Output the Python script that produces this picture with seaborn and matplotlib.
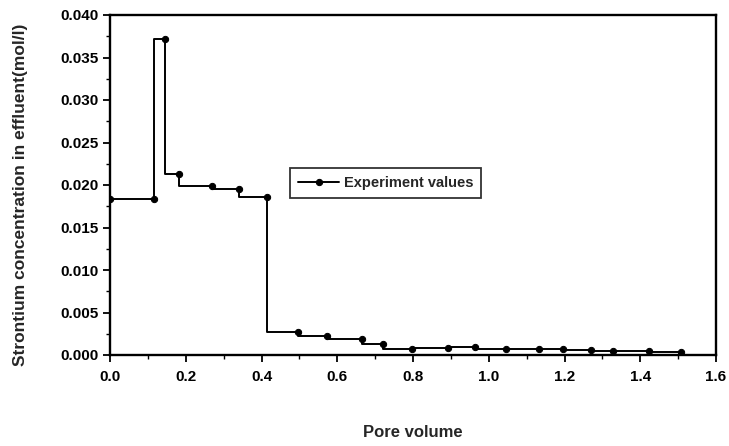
import matplotlib
matplotlib.use("Agg")
import matplotlib.pyplot as plt
import seaborn as sns
import pandas as pd
from matplotlib.ticker import MultipleLocator, FormatStrFormatter

pore_volume = [0.0, 0.115, 0.146, 0.181, 0.269, 0.340, 0.415, 0.496, 0.573, 0.665,
               0.720, 0.797, 0.893, 0.963, 1.046, 1.132, 1.197, 1.271, 1.329, 1.423, 1.508]
sr_conc = [0.0184, 0.0184, 0.0372, 0.0213, 0.0199, 0.0195, 0.0186, 0.0027, 0.0022, 0.0019,
           0.0013, 0.0007, 0.0008, 0.0009, 0.0007, 0.0007, 0.0007, 0.0006, 0.0005, 0.0005, 0.0004]
series_name = "Experiment values"

df = pd.DataFrame({"Pore volume": pore_volume, "conc": sr_conc, "series": series_name})

sns.set_theme(style="ticks")
plt.rcParams["font.family"] = ["Liberation Sans", "DejaVu Sans"]

fig = plt.figure(figsize=(7.29, 4.46), dpi=100)
ax = fig.add_axes([110 / 729, 1 - 355 / 446, 606 / 729, 340 / 446])

sns.lineplot(data=df, x="Pore volume", y="conc", hue="series", palette=["black"],
             estimator=None, sort=False, drawstyle="steps-pre", marker="o",
             markersize=4.5, markeredgecolor="black", linewidth=1.4, ax=ax)

ax.set_xlim(0, 1.6)
ax.set_ylim(0, 0.040)
ax.xaxis.set_major_locator(MultipleLocator(0.2))
ax.xaxis.set_minor_locator(MultipleLocator(0.1))
ax.yaxis.set_major_locator(MultipleLocator(0.005))
ax.yaxis.set_minor_locator(MultipleLocator(0.0025))
ax.xaxis.set_major_formatter(FormatStrFormatter("%.1f"))
ax.yaxis.set_major_formatter(FormatStrFormatter("%.3f"))

for s in ax.spines.values():
    s.set_linewidth(1.7)
    s.set_color("black")
    s.set_visible(True)

ax.tick_params(which="major", direction="out", length=5, width=1.3, colors="black",
               labelsize=11)
ax.tick_params(axis="x", which="major", pad=6)
ax.tick_params(which="minor", direction="out", length=3, width=1.0, colors="black")
for lab in ax.get_xticklabels() + ax.get_yticklabels():
    lab.set_fontweight("bold")

ax.set_xlabel("Pore volume", fontsize=12, fontweight="bold")
ax.set_ylabel("Strontium concentration in effluent(mol/l)", fontsize=12.5,
              fontweight="bold")
ax.xaxis.set_label_coords(0.5, -0.205)
ax.yaxis.set_label_coords(-0.135, 0.47)

leg = ax.legend(loc="center", bbox_to_anchor=(0.455, 0.506), frameon=True,
                fancybox=False, edgecolor="black", handlelength=2.8,
                fontsize=10.5, borderpad=0.55, handletextpad=0.3)
leg.get_frame().set_linewidth(1.3)
leg.set_title(None)
for t in leg.get_texts():
    t.set_fontweight("bold")

fig.savefig("out.png", dpi=100, facecolor="white")
